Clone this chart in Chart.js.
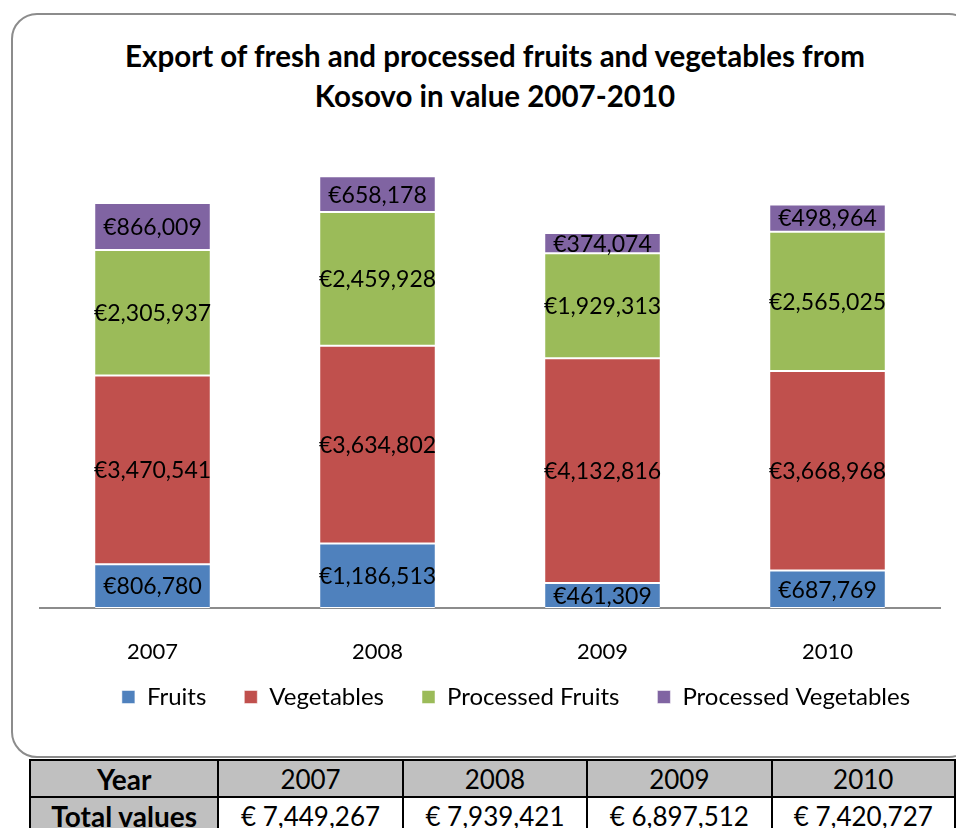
<!DOCTYPE html>
<html>
<head>
<meta charset="utf-8">
<script src="https://cdn.jsdelivr.net/npm/chart.js@4"></script>
<style>
  html, body { margin: 0; padding: 0; background: #fff; overflow: hidden; }
  body { width: 956px; height: 828px; position: relative; font-family: Lato, "Open Sans", sans-serif; }
  #frame {
    position: absolute; left: 11px; top: 13px; width: 964px; height: 745px;
    border: 2px solid #8c8c8c; border-radius: 26px; box-sizing: border-box;
  }
  #title {
    position: absolute; left: 20px; width: 950px; top: 36px;
    text-align: center; font-weight: bold; font-size: 29.5px; line-height: 40px; color: #000;
  }
  #chart { position: absolute; left: 11px; top: 13px; }
  #totals {
    position: absolute; left: 29px; top: 759px; border-collapse: collapse;
    font-size: 26px; color: #000;
  }
  #totals td {
    border: 2px solid #000; text-align: center; padding: 0; height: 35px; line-height: 30px;
  }
  #totals td.head { background: #c0c0c0; }
  #totals td.bold { font-weight: bold; font-size: 28px; }
</style>
</head>
<body>
<div id="frame"></div>
<div id="title">Export of fresh and processed fruits and vegetables from<br>Kosovo in value 2007-2010</div>
<canvas id="chart" width="981" height="727"></canvas>
<table id="totals"></table>

<script>
// ── Data ───────────────────────────────────────
const years          = ['2007', '2008', '2009', '2010'];
const fruits         = [806780, 1186513, 461309, 687769];
const vegetables     = [3470541, 3634802, 4132816, 3668968];
const procFruits     = [2305937, 2459928, 1929313, 2565025];
const procVegetables = [866009, 658178, 374074, 498964];
const totalValues    = ['€ 7,449,267', '€ 7,939,421', '€ 6,897,512', '€ 7,420,727'];

const seriesNames  = ['Fruits', 'Vegetables', 'Processed Fruits', 'Processed Vegetables'];
const seriesColors = ['#4f81bd', '#c0504d', '#9bbb59', '#8064a2'];

const FONT = 'Lato, "Open Sans", sans-serif';

function euro(v) {
  return '€' + v.toLocaleString('en-US');
}

// ── Value labels inside the bar segments ───────
const segmentLabels = {
  id: 'segmentLabels',
  afterDatasetsDraw(chart) {
    const ctx = chart.ctx;
    ctx.save();
    ctx.font = '23px ' + FONT;
    ctx.fillStyle = '#000';
    ctx.textAlign = 'center';
    ctx.textBaseline = 'middle';
    chart.data.datasets.forEach((ds, di) => {
      chart.getDatasetMeta(di).data.forEach((bar, i) => {
        const mid = (bar.y + bar.base) / 2;
        ctx.fillText(euro(ds.data[i]), bar.x, mid + 1);
      });
    });
    ctx.restore();
  }
};

// legend sits a little closer to the year labels than its item spacing allows
const legendLift = {
  id: 'legendLift',
  afterLayout(chart) {
    chart.legend.top    -= 21;
    chart.legend.bottom -= 21;
  }
};

// ── Chart ──────────────────────────────────────
const datasets = [fruits, vegetables, procFruits, procVegetables].map((d, i) => ({
  label: seriesNames[i],
  data: d,
  backgroundColor: seriesColors[i],
  borderColor: '#ffffff',
  borderWidth: { top: 1, bottom: 1, left: 0, right: 0 },
  borderSkipped: false,
  categoryPercentage: 1,
  barPercentage: 0.51
}));

new Chart(document.getElementById('chart'), {
  type: 'bar',
  data: { labels: years, datasets },
  plugins: [segmentLabels, legendLift],
  options: {
    responsive: false,
    animation: false,
    layout: { padding: { top: 160, left: 29, right: 0, bottom: 0 } },
    plugins: {
      tooltip: { enabled: false },
      legend: {
        position: 'bottom',
        labels: {
          boxWidth: 13, boxHeight: 13, padding: 38,
          color: '#000', font: { family: FONT, size: 24 }
        }
      }
    },
    scales: {
      x: {
        stacked: true,
        grid: { display: false, drawTicks: false },
        border: { color: '#8c8c8c', width: 2 },
        ticks: { color: '#000', padding: 31, font: { family: FONT, size: 22 } },
        afterFit: s => { s.height = 60; }
      },
      y: {
        stacked: true,
        position: 'right',
        min: 0, max: 8000000,
        grid: { display: false },
        border: { display: false },
        ticks: { display: false },
        afterFit: s => { s.width = 52; }
      }
    }
  }
});

// ── Totals table ───────────────────────────────
const colWidths = [189, 184, 184, 184, 183];
const table = document.getElementById('totals');
const rowA = table.insertRow();
const rowB = table.insertRow();
[['Year'].concat(years), ['Total values'].concat(totalValues)].forEach((cells, r) => {
  const row = r === 0 ? rowA : rowB;
  cells.forEach((txt, c) => {
    const td = row.insertCell();
    td.textContent = txt;
    td.style.width = colWidths[c] + 'px';
    if (r === 0 || c === 0) td.classList.add('head');
    if (c === 0) td.classList.add('bold');
  });
});
</script>
</body>
</html>
